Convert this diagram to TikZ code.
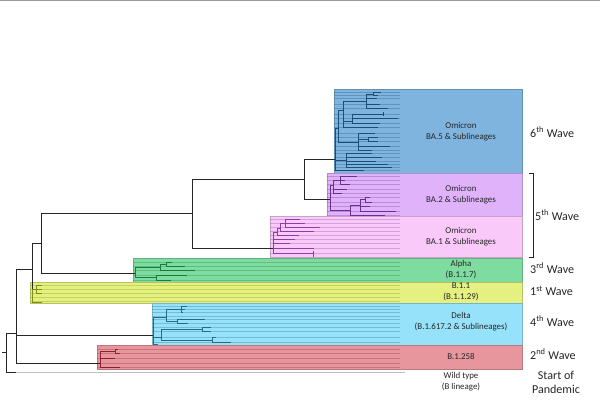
\documentclass[tikz,border=0pt]{standalone}
\usepackage{fontspec}
\setmainfont{Carlito}
\definecolor{boxBA5}{HTML}{7EB4DE}
\definecolor{boxBA2}{HTML}{DFB2F9}
\definecolor{boxBA1}{HTML}{F9C9F9}
\definecolor{boxAlpha}{HTML}{7EDCA0}
\definecolor{boxB11}{HTML}{E4F080}
\definecolor{boxDelta}{HTML}{96E2FA}
\definecolor{boxRed}{HTML}{E8969E}
\definecolor{lnBA5}{HTML}{1B4F78}
\definecolor{lnBA2}{HTML}{6A2F8F}
\definecolor{lnBA1}{HTML}{8E3E9E}
\definecolor{lnAlpha}{HTML}{1B7A3E}
\definecolor{lnB11}{HTML}{7F8F10}
\definecolor{lnDelta}{HTML}{2A6A88}
\definecolor{lnRed}{HTML}{8A2232}
\tikzset{
  clade/.style={draw=#1!80!black, line width=0.3pt, fill=#1},
  tree/.style={draw=#1, line width=0.8pt},
  guide/.style={draw=#1, line width=0.35pt, opacity=0.3},
  lbl/.style={font=\fontsize{7.6}{9.4}\selectfont, align=center, text=black!85},
  wave/.style={font=\fontsize{10.3}{12}\selectfont, anchor=west, text=black!85},
}
\begin{document}
\begin{tikzpicture}[x=0.03cm, y=-0.03cm]
  \useasboundingbox (0,0) rectangle (600,413);
  \draw[black!40, line width=1pt] (0,0.5) -- (600,0.5);

  % clade boxes
  \path[clade=boxBA5]   (334,89)  rectangle (522,173);
  \path[clade=boxBA2]   (327,173) rectangle (522,216);
  \path[clade=boxBA1]   (270,216) rectangle (522,257);
  \path[clade=boxAlpha] (133,258) rectangle (522,282);
  \path[clade=boxB11]   (30,282)  rectangle (522,303);
  \path[clade=boxDelta] (152,303) rectangle (522,345);
  \path[clade=boxRed]   (97,345)  rectangle (522,369);

  % leaf guides
  \foreach \y in {92,95,98,104,108,114,118,123,127,133,137,141,146,150,153,157,161,164,167,170}
    \draw[guide=lnBA5] (334,\y) -- (400,\y);
  \foreach \y in {176,180,184,189,193,197,202,206,211,215}
    \draw[guide=lnBA2] (327,\y) -- (400,\y);
  \foreach \y in {219,223,227,231,235,239,243,248,253}
    \draw[guide=lnBA1] (270,\y) -- (400,\y);
  \foreach \y in {262,266,270,275,280}
    \draw[guide=lnAlpha] (133,\y) -- (400,\y);
  \foreach \y in {285,289,293,297,301}
    \draw[guide=lnB11] (30,\y) -- (400,\y);
  \foreach \y in {306,309,312,316,319,323,327,331,337,342}
    \draw[guide=lnDelta] (152,\y) -- (400,\y);
  \foreach \y in {349,353,358,363,367}
    \draw[guide=lnRed] (97,\y) -- (400,\y);

  % backbone
  \coordinate (tick)  at (2,352);
  \coordinate (root)  at (6,352);
  \coordinate (nA)    at (16,333);
  \coordinate (nB)    at (32,269);
  \coordinate (nC)    at (41,243);
  \coordinate (nD)    at (192,213);
  \coordinate (nE)    at (304,179);
  \coordinate (ba5)   at (335,159);
  \coordinate (ba2)   at (330,199);
  \coordinate (ba1)   at (273,248);
  \coordinate (alpha) at (135,273);
  \coordinate (b11)   at (32,293);
  \coordinate (delta) at (153,335);
  \coordinate (b1258) at (100,363);
  \coordinate (wild)  at (16,372);
  \coordinate (wildend) at (405,372);

  \draw[black!25, line width=0.8pt] (wild) -- (wildend);
  \draw[black!85, line width=0.7pt] (tick) -- (root);
  \path[tree=black!85, line width=0.7pt]
                       (root) edge[to path={|- (\tikztotarget)}] (nA)
                       (root) edge[to path={|- (\tikztotarget)}] (wild)
                       (nA) edge[to path={|- (\tikztotarget)}] (nB)
                       (nA) edge[to path={|- (\tikztotarget)}] (delta)
                       (nA) edge[to path={|- (\tikztotarget)}] (b1258)
                       (nB) edge[to path={|- (\tikztotarget)}] (nC)
                       (nB) edge[to path={|- (\tikztotarget)}] (b11)
                       (nC) edge[to path={|- (\tikztotarget)}] (nD)
                       (nC) edge[to path={|- (\tikztotarget)}] (alpha)
                       (nD) edge[to path={|- (\tikztotarget)}] (nE)
                       (nD) edge[to path={|- (\tikztotarget)}] (ba1)
                       (nE) edge[to path={|- (\tikztotarget)}] (ba5)
                       (nE) edge[to path={|- (\tikztotarget)}] (ba2);

  % subtrees
  \foreach \px/\py/\cx/\cy in {335/159/338/128, 335/159/346/160, 335/159/364/170,
      338/128/343/110, 338/128/358/142, 343/110/366/101, 343/110/352/121, 343/110/378/127,
      366/101/373/94, 366/101/377/98, 366/101/380/104, 366/101/388/108,
      373/94/381/92, 373/94/378/95, 352/121/383/114, 352/121/398/118, 352/121/380/123,
      358/142/375/133, 358/142/368/139, 368/139/378/137, 368/139/378/141,
      358/142/390/146, 358/142/372/150, 346/160/372/153, 346/160/382/157,
      346/160/376/161, 346/160/388/164, 346/160/392/167}
    \draw[tree=lnBA5] (\px,\py) |- (\cx,\cy);
  \draw[tree=lnBA5] (383,112) -- (383,116);
  \foreach \px/\py/\cx/\cy in {330/199/333/185, 330/199/350/210,
      333/185/340/180, 333/185/347/189, 333/185/342/193,
      340/180/357/176, 340/180/345/180, 340/180/350/184,
      350/210/360/205, 350/210/385/215, 360/205/365/199, 360/205/370/206,
      360/205/396/211, 365/199/370/197, 365/199/372/202}
    \draw[tree=lnBA2] (\px,\py) |- (\cx,\cy);
  \foreach \px/\py/\cx/\cy in {273/248/277/232, 273/248/295/239, 273/248/290/243,
      273/248/314/248, 273/248/313/253, 277/232/280/228, 277/232/299/235,
      280/228/285/223, 280/228/314/231, 285/223/300/219, 285/223/305/223, 285/223/320/227}
    \draw[tree=lnBA1] (\px,\py) |- (\cx,\cy);
  \draw[tree=lnBA1] (313,251) -- (313,257);
  \foreach \px/\py/\cx/\cy in {135/273/160/267, 135/273/156/277, 160/267/166/264,
      160/267/195/270, 166/264/172/262, 166/264/185/266, 156/277/187/275, 156/277/171/280}
    \draw[tree=lnAlpha] (\px,\py) |- (\cx,\cy);
  \foreach \px/\py/\cx/\cy in {32/293/36/289, 32/293/42/302,
      36/289/42/285, 36/289/42/289, 36/289/42/293}
    \draw[tree=lnB11] (\px,\py) |- (\cx,\cy);
  \foreach \px/\py/\cx/\cy in {153/335/166/317, 153/335/161/337, 153/335/158/344,
      166/317/181/309, 166/317/177/321, 181/309/187/306, 181/309/185/309, 181/309/183/312,
      177/321/205/319, 177/321/188/323, 161/337/202/329, 161/337/212/340,
      202/329/211/327, 202/329/211/331, 212/340/216/337, 212/340/231/342}
    \draw[tree=lnDelta] (\px,\py) |- (\cx,\cy);
  \foreach \px/\py/\cx/\cy in {100/363/115/351, 100/363/115/358, 100/363/120/367,
      115/351/118/349, 115/351/120/353}
    \draw[tree=lnRed] (\px,\py) |- (\cx,\cy);

  % clade labels
  \node[lbl] (tba5)   at (461,132) {Omicron\\BA.5 \& Sublineages};
  \node[lbl] (tba2)   at (461,195) {Omicron\\BA.2 \& Sublineages};
  \node[lbl] (tba1)   at (461,237) {Omicron\\BA.1 \& Sublineages};
  \node[lbl] (talpha) at (461,269.5) {Alpha\\(B.1.1.7)};
  \node[lbl] (tb11)   at (461,291.5) {B.1.1\\(B.1.1.29)};
  \node[lbl] (tdelta) at (461,321.5) {Delta\\(B.1.617.2 \& Sublineages)};
  \node[lbl] (tred)   at (461,356) {B.1.258};
  \node[lbl] (twild)  at (461,381.5) {Wild type\\(B lineage)};

  % waves
  \draw[black!85, line width=0.6pt] (529,173) -- (533,173) -- (533,257) -- (529,257);
  \node[wave] (w6) at (526,132) {6\textsuperscript{th} Wave};
  \node[wave] (w5) at (531,215) {5\textsuperscript{th} Wave};
  \node[wave] (w3) at (526,268) {3\textsuperscript{rd} Wave};
  \node[wave] (w1) at (526,291) {1\textsuperscript{st} Wave};
  \node[wave] (w4) at (526,321) {4\textsuperscript{th} Wave};
  \node[wave] (w2) at (526,354) {2\textsuperscript{nd} Wave};
  \node[wave, anchor=center, align=center] (wstart) at (556,382) {Start of\\Pandemic};
\end{tikzpicture}
\end{document}
